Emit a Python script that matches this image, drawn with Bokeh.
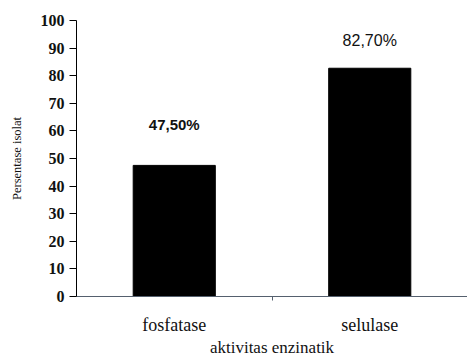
from bokeh.plotting import figure
from bokeh.models import ColumnDataSource, Range1d, FixedTicker, Label
from bokeh.embed import file_html
from bokeh.resources import INLINE

categories = ["fosfatase", "selulase"]
values = [47.5, 82.7]
value_labels = ["47,50%", "82,70%"]
y_ticks = [0, 10, 20, 30, 40, 50, 60, 70, 80, 90, 100]

xs = [i + 0.5 for i in range(len(categories))]
source = ColumnDataSource(dict(x=xs, top=values, cat=categories, lab=value_labels))

p = figure(width=467, height=359, output_backend="svg", toolbar_location=None,
           x_range=Range1d(0, len(categories)), y_range=Range1d(0, 100),
           min_border_left=76, min_border_right=0, min_border_top=20, min_border_bottom=63)
p.outline_line_color = None
p.xgrid.visible = False
p.ygrid.visible = False
p.background_fill_color = "white"
p.border_fill_color = "white"

p.vbar(x="x", top="top", width=0.42, bottom=0, source=source,
       fill_color="black", line_color="black")

# y axis
ya = p.yaxis[0]
ya.ticker = FixedTicker(ticks=y_ticks)
ya.axis_line_color = "black"
ya.axis_line_width = 1
ya.major_tick_in = 0
ya.major_tick_out = 7
ya.minor_tick_line_color = None
ya.major_label_text_font = "Liberation Serif"
ya.major_label_text_font_style = "bold"
ya.major_label_text_font_size = "16px"
ya.major_label_text_color = "#111111"
ya.major_label_standoff = 5
ya.axis_label = "Persentase isolat"
ya.axis_label_text_font = "Liberation Serif"
ya.axis_label_text_font_style = "normal"
ya.axis_label_text_font_size = "12.5px"
ya.axis_label_text_color = "#111111"
ya.axis_label_standoff = 14

# x axis
xa = p.xaxis[0]
xa.ticker = FixedTicker(ticks=xs, minor_ticks=[1])
xa.major_label_overrides = {x: c for x, c in zip(xs, categories)}
xa.axis_line_color = "#55606e"
xa.axis_line_width = 1
xa.major_tick_line_color = None
xa.minor_tick_line_color = "#55606e"
xa.minor_tick_in = 0
xa.minor_tick_out = 4
xa.major_label_text_font = "Liberation Serif"
xa.major_label_text_font_size = "18px"
xa.major_label_text_color = "#111111"
xa.major_label_standoff = 12
xa.axis_label = "aktivitas enzinatik"
xa.axis_label_text_font = "Liberation Serif"
xa.axis_label_text_font_style = "normal"
xa.axis_label_text_font_size = "17px"
xa.axis_label_text_color = "#111111"
xa.axis_label_standoff = 0

# value labels
offsets = [15, 10]
styles = ["bold", "normal"]
sizes = ["15px", "16px"]
for x, v, lab, off, st, sz in zip(xs, values, value_labels, offsets, styles, sizes):
    p.add_layout(Label(x=x, y=v + off, text=lab, text_align="center", text_baseline="middle",
                       text_font="Liberation Sans", text_font_size=sz,
                       text_font_style=st, text_color="#111111"))

open("out.html", "w").write(file_html(p, INLINE))
